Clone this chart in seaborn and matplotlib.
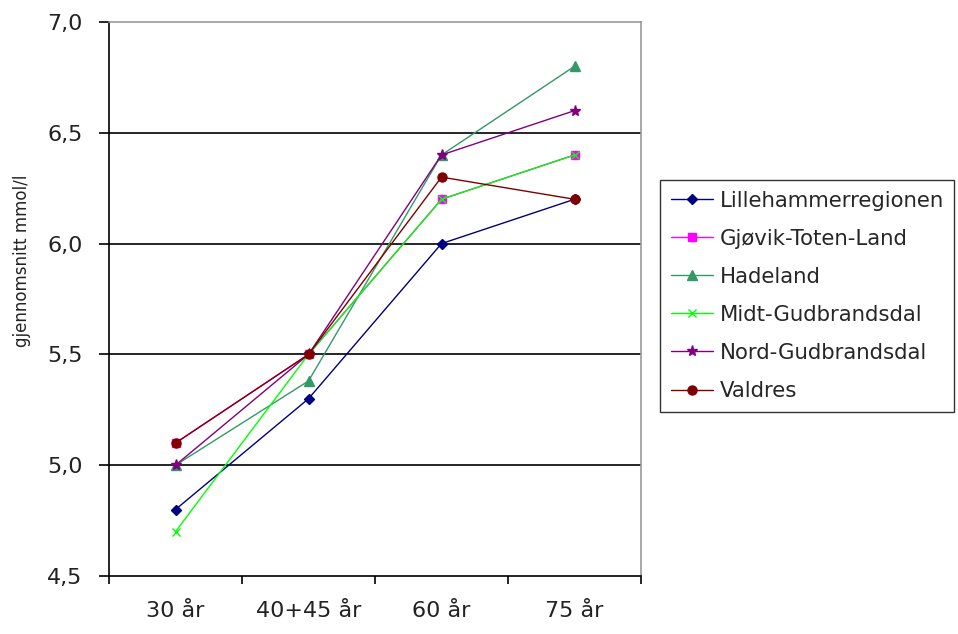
import matplotlib
matplotlib.use("Agg")
import matplotlib.pyplot as plt
import seaborn as sns
import pandas as pd
from matplotlib.ticker import FixedLocator, FixedFormatter

# Age groups on the x axis
age_groups = ["30 år", "40+45 år", "60 år", "75 år"]

# Mean values (mmol/l) per region
lillehammer = [4.8, 5.3, 6.0, 6.2]
gjovik = [5.1, 5.5, 6.2, 6.4]
hadeland = [5.0, 5.38, 6.4, 6.8]
midt_gudbrandsdal = [4.7, 5.5, 6.2, 6.4]
nord_gudbrandsdal = [5.0, 5.5, 6.4, 6.6]
valdres = [5.1, 5.5, 6.3, 6.2]

regions = ["Lillehammerregionen", "Gjøvik-Toten-Land", "Hadeland",
           "Midt-Gudbrandsdal", "Nord-Gudbrandsdal", "Valdres"]
series = [lillehammer, gjovik, hadeland, midt_gudbrandsdal, nord_gudbrandsdal, valdres]

y_ticks = [4.5, 5.0, 5.5, 6.0, 6.5, 7.0]
y_tick_labels = ["4,5", "5,0", "5,5", "6,0", "6,5", "7,0"]

colors = {
    "Lillehammerregionen": "#000080",
    "Gjøvik-Toten-Land": "#FF00FF",
    "Hadeland": "#339966",
    "Midt-Gudbrandsdal": "#00FF00",
    "Nord-Gudbrandsdal": "#800080",
    "Valdres": "#800000",
}
markers = {
    "Lillehammerregionen": "D",
    "Gjøvik-Toten-Land": "s",
    "Hadeland": "^",
    "Midt-Gudbrandsdal": "x",
    "Nord-Gudbrandsdal": "*",
    "Valdres": "o",
}
marker_sizes = {
    "Lillehammerregionen": 5,
    "Gjøvik-Toten-Land": 6,
    "Hadeland": 7,
    "Midt-Gudbrandsdal": 6,
    "Nord-Gudbrandsdal": 8,
    "Valdres": 6.5,
}

rows = []
for name, vals in zip(regions, series):
    for i, v in enumerate(vals):
        rows.append({"Region": name, "pos": i, "verdi": v})
df = pd.DataFrame(rows)

sns.set_theme(style="white")
plt.rcParams["font.family"] = ["DejaVu Sans"]

fig = plt.figure(figsize=(9.58, 6.34), dpi=100)
ax = fig.add_axes([109 / 958, 1 - 576 / 634, (641 - 109) / 958, (576 - 22) / 634])

for name in regions:
    sub = df[df["Region"] == name]
    sns.lineplot(data=sub, x="pos", y="verdi", color=colors[name],
                 marker=markers[name], markersize=marker_sizes[name],
                 markeredgecolor=colors[name], markerfacecolor=colors[name],
                 markeredgewidth=1.0, linewidth=1.0, label=name, ax=ax)

ax.set_xlim(-0.5, 3.5)
ax.set_ylim(4.5, 7.0)

# Horizontal gridlines
for y in y_ticks[1:-1]:
    ax.axhline(y, color="black", linewidth=1.2, zorder=0)

ax.yaxis.set_major_locator(FixedLocator(y_ticks))
ax.yaxis.set_major_formatter(FixedFormatter(y_tick_labels))

# Category boundary ticks, labels centred in each category
ax.xaxis.set_major_locator(FixedLocator([-0.5, 0.5, 1.5, 2.5, 3.5]))
ax.xaxis.set_major_formatter(FixedFormatter(["", "", "", "", ""]))
ax.xaxis.set_minor_locator(FixedLocator([0, 1, 2, 3]))
ax.xaxis.set_minor_formatter(FixedFormatter(age_groups))

ax.tick_params(axis="x", which="major", direction="out", length=6, width=1.2,
               color="black", bottom=True)
ax.tick_params(axis="x", which="minor", length=0, labelsize=16, pad=18,
               labelcolor="#222222")
ax.tick_params(axis="y", which="major", direction="out", length=7, width=1.2,
               color="black", left=True, labelsize=16, pad=12, labelcolor="#222222")

for side in ["left", "bottom"]:
    ax.spines[side].set_color("black")
    ax.spines[side].set_linewidth(1.2)
for side in ["top", "right"]:
    ax.spines[side].set_color("#999999")
    ax.spines[side].set_linewidth(1.2)

ax.set_xlabel("")
ax.set_ylabel("gjennomsnitt mmol/l", fontsize=12, color="#222222")
ax.yaxis.set_label_coords(-78 / 532, 1 - (261 - 22) / 554)

leg = ax.legend(loc="upper left", bbox_to_anchor=(660 / 958, 1 - 180 / 634),
                bbox_transform=fig.transFigure, frameon=True, fontsize=15.3,
                handlelength=2.0, handletextpad=0.3, borderpad=0.5,
                borderaxespad=0, labelspacing=0.85, fancybox=False)
leg.get_frame().set_edgecolor("black")
leg.get_frame().set_linewidth(1.0)

fig.savefig("out.png", dpi=100, facecolor="white")
